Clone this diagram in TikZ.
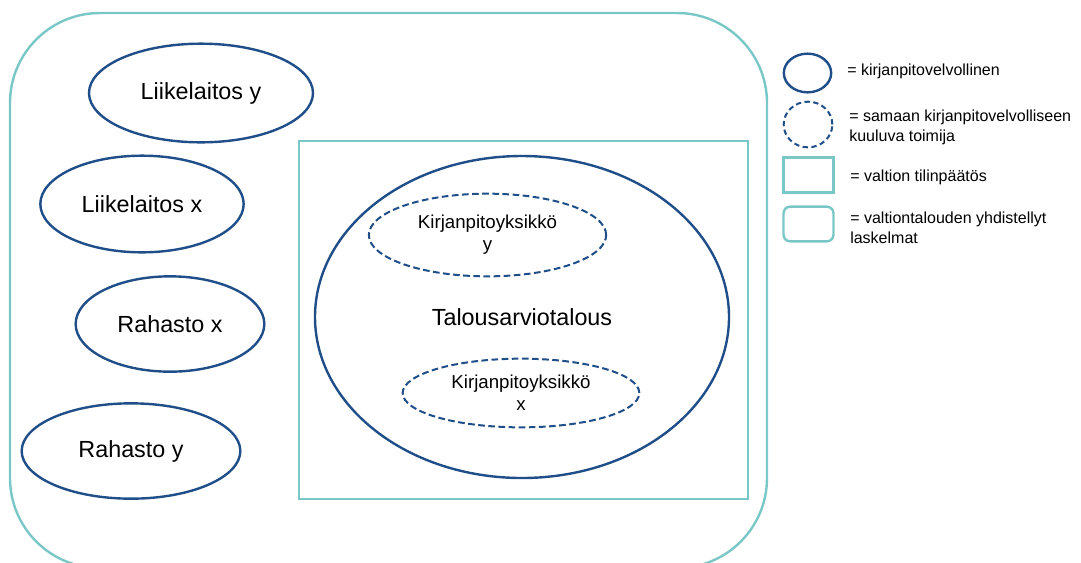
\documentclass[tikz,border=0pt]{standalone}
\usepackage{fontspec}
\setmainfont{Liberation Sans}
\usetikzlibrary{shapes.geometric}
\definecolor{dblue}{HTML}{1F4E89}
\definecolor{teal2}{HTML}{79C7C6}
\begin{document}
\begin{tikzpicture}[x=0.75pt,y=-0.75pt,
  ent/.style={ellipse,draw=dblue,line width=1.8pt,inner sep=0pt,font=\fontsize{17.5}{21}\selectfont},
  unit/.style={ellipse,draw=dblue,line width=1.5pt,dash pattern=on 5pt off 2.6pt,inner sep=0pt,align=center,font=\fontsize{14}{16.5}\selectfont},
  tealbox/.style={draw=teal2,line width=1.8pt},
  legtext/.style={anchor=west,inner sep=0pt,align=left,font=\fontsize{12}{15}\selectfont}]
\useasboundingbox (0,0) rectangle (1081,562);
\begin{scope}
\clip (0,0) rectangle (1081,562);
\draw[tealbox,rounded corners=67.5pt] (10,13) rectangle (767,568);
\end{scope}
\node[tealbox,minimum width=336.75pt,minimum height=268.5pt,inner sep=0pt] (vt) at (523.5,320) {};
\node[ent,minimum width=168pt,minimum height=74pt] (ly) at (201,93) {Liikelaitos y};
\node[ent,minimum width=152.5pt,minimum height=72.5pt] (lx) at (142,204) {Liikelaitos x};
\node[ent,minimum width=141.5pt,minimum height=71.5pt] (rx) at (170,324) {Rahasto x};
\node[ent,minimum width=164pt,minimum height=71.5pt] (ry) at (131,451) {Rahasto y};
\node[ent,minimum width=310.5pt,minimum height=241.5pt] (ta) at (522,317) {Talousarviotalous};
\node[unit,minimum width=178pt,minimum height=62pt] (ky) at (487.5,235) {Kirjanpitoyksikkö\\y};
\node[unit,minimum width=177.5pt,minimum height=51.5pt] (kx) at (521,393) {Kirjanpitoyksikkö\\x};
% legend
\node[ellipse,draw=dblue,line width=1.8pt,minimum width=35.5pt,minimum height=29pt,inner sep=0pt] (l1) at (807.5,73) {};
\node[ellipse,draw=dblue,line width=1.5pt,dash pattern=on 4pt off 2.6pt,minimum width=36.5pt,minimum height=34.25pt,inner sep=0pt] (l2) at (808,124.5) {};
\node[tealbox,minimum width=37.5pt,minimum height=26pt,inner sep=0pt] (l3) at (808.5,175) {};
\node[tealbox,rounded corners=5pt,minimum width=37.5pt,minimum height=26pt,inner sep=0pt] (l4) at (808.5,224) {};
\node[legtext] (t1) at (847,71) {= kirjanpitovelvollinen};
\node[legtext] (t2) at (849,127) {= samaan kirjanpitovelvolliseen\\kuuluva toimija};
\node[legtext] (t3) at (850,177) {= valtion tilinpäätös};
\node[legtext] (t4) at (850,228) {= valtiontalouden yhdistellyt\\laskelmat};
\end{tikzpicture}
\end{document}
